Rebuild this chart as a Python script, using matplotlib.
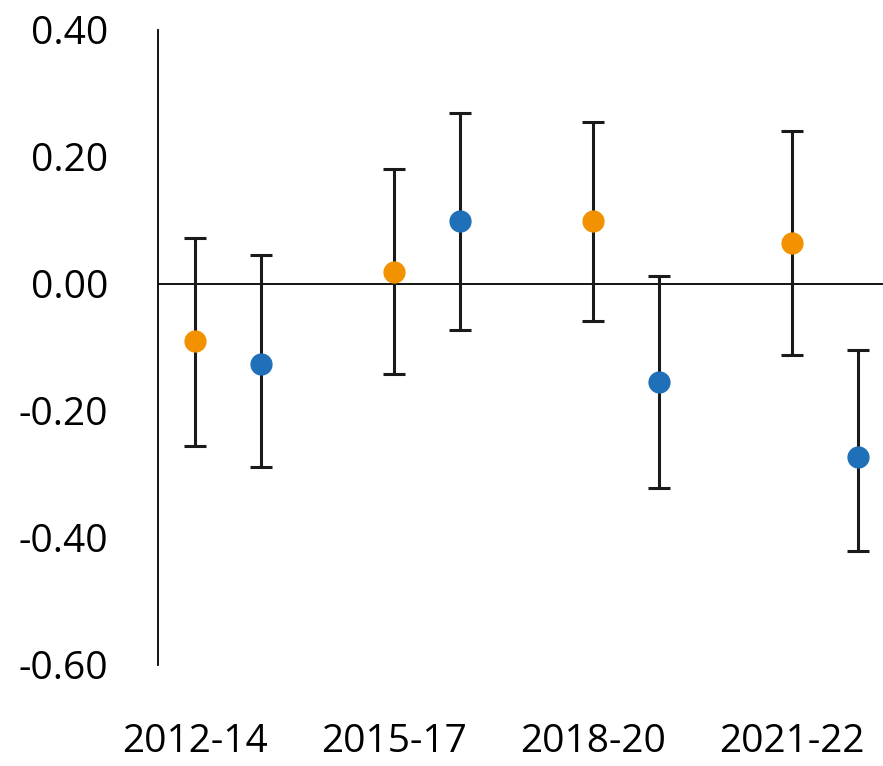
import numpy as np
import matplotlib.pyplot as plt

# -----------------------------
# Data
# -----------------------------
periods = ["2012-14", "2015-17", "2018-20", "2021-22"]

orange_val = [-0.090, 0.019, 0.099, 0.065]
orange_hi = [0.072, 0.181, 0.255, 0.241]
orange_lo = [-0.255, -0.142, -0.058, -0.112]

blue_val = [-0.126, 0.099, -0.154, -0.272]
blue_hi = [0.046, 0.269, 0.013, -0.104]
blue_lo = [-0.288, -0.072, -0.321, -0.420]

orange_col = "#F39200"
blue_col = "#1F70B8"

plt.rcParams['font.family'] = ['Open Sans', 'DejaVu Sans']

# -----------------------------
# Plot
# -----------------------------
fig = plt.figure(figsize=(8.83, 7.66), dpi=100)
ax = fig.add_axes([0.179, 0.132, 0.821, 0.829])

x = np.arange(len(periods))
offset = 0.33


def draw(xpos, val, lo, hi, col):
    val = np.array(val)
    yerr = [val - np.array(lo), np.array(hi) - val]
    ax.errorbar(xpos, val, yerr=yerr, fmt='o', color=col, ms=15,
                mec=col, ecolor='#1a1a1a', elinewidth=2.2, capsize=8,
                capthick=2.2, zorder=3)


draw(x, orange_val, orange_lo, orange_hi, orange_col)
draw(x + offset, blue_val, blue_lo, blue_hi, blue_col)

ax.axhline(0, color='black', lw=1.3, zorder=1)

ax.set_ylim(-0.6, 0.4)
ax.set_xlim(-0.186, 3.457)
ax.set_yticks([0.4, 0.2, 0.0, -0.2, -0.4, -0.6])
ax.set_yticklabels([f"{v:.2f}" for v in [0.4, 0.2, 0.0, -0.2, -0.4, -0.6]])
ax.set_xticks(x)
ax.set_xticklabels(periods)

for s in ['top', 'right', 'bottom']:
    ax.spines[s].set_visible(False)
ax.spines['left'].set_linewidth(1.3)

ax.tick_params(axis='y', length=0, pad=36, labelsize=28)
ax.tick_params(axis='x', length=0, pad=42, labelsize=28)

fig.savefig("out.png", dpi=100)
